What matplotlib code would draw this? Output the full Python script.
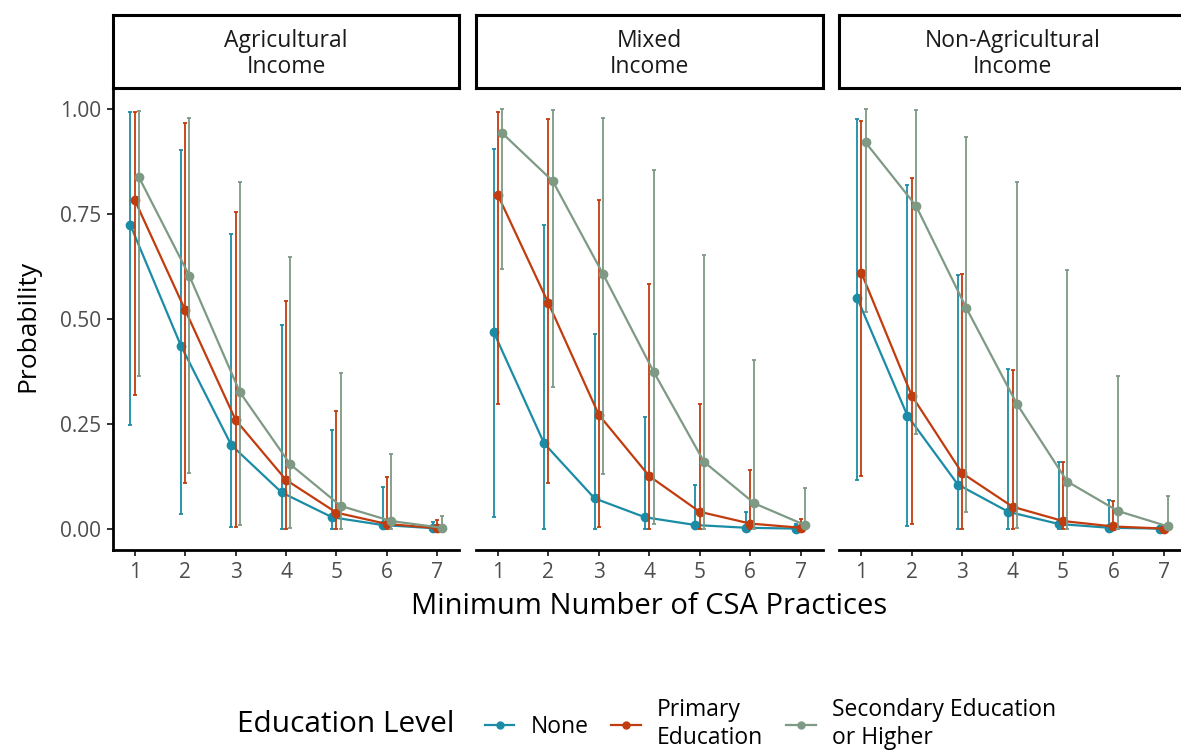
import matplotlib
matplotlib.use("Agg")
import matplotlib.pyplot as plt
from matplotlib.lines import Line2D
import numpy as np

# ---- data ----
practices = [1, 2, 3, 4, 5, 6, 7]
panels = ["Agricultural\nIncome", "Mixed\nIncome", "Non-Agricultural\nIncome"]
groups = ["None", "Primary\nEducation", "Secondary Education\nor Higher"]
colors = ["#1B8CA6", "#C13C0E", "#7E9A85"]

# rows: None, Primary, Secondary
agri_p = [[0.724, 0.437, 0.200, 0.087, 0.028, 0.0095, 0.002],
          [0.784, 0.522, 0.260, 0.117, 0.039, 0.012, 0.002],
          [0.838, 0.603, 0.326, 0.154, 0.055, 0.019, 0.003]]
agri_lo = [[0.248, 0.036, 0.004, 0.0, 0.0, 0.0, 0.0],
           [0.319, 0.110, 0.004, 0.0, 0.0, 0.0, 0.0],
           [0.365, 0.134, 0.010, 0.002, 0.0, 0.0, 0.0]]
agri_hi = [[0.994, 0.903, 0.702, 0.485, 0.236, 0.099, 0.017],
           [0.994, 0.967, 0.756, 0.544, 0.280, 0.123, 0.021],
           [0.997, 0.979, 0.826, 0.647, 0.371, 0.178, 0.032]]

mixed_p = [[0.469, 0.204, 0.073, 0.028, 0.0095, 0.003, 0.001],
           [0.795, 0.538, 0.272, 0.126, 0.041, 0.013, 0.003],
           [0.943, 0.829, 0.607, 0.375, 0.160, 0.061, 0.0095]]
mixed_lo = [[0.028, 0.0, 0.0, 0.0, 0.0, 0.0, 0.0],
            [0.298, 0.109, 0.004, 0.0, 0.0, 0.0, 0.0],
            [0.619, 0.338, 0.130, 0.011, 0.0, 0.0, 0.0]]
mixed_hi = [[0.906, 0.724, 0.465, 0.266, 0.105, 0.040, 0.013],
            [0.993, 0.976, 0.783, 0.583, 0.297, 0.141, 0.024],
            [1.000, 0.998, 0.980, 0.855, 0.654, 0.403, 0.097]]

nonag_p = [[0.551, 0.270, 0.106, 0.041, 0.012, 0.003, 0.001],
           [0.611, 0.318, 0.133, 0.053, 0.019, 0.006, 0.001],
           [0.921, 0.770, 0.526, 0.298, 0.113, 0.043, 0.006]]
nonag_lo = [[0.117, 0.006, 0.0, 0.0, 0.0, 0.0, 0.0],
            [0.127, 0.011, 0.0, 0.0, 0.0, 0.0, 0.0],
            [0.518, 0.226, 0.041, 0.002, 0.0, 0.0, 0.0]]
nonag_hi = [[0.977, 0.820, 0.604, 0.381, 0.159, 0.069, 0.008],
            [0.971, 0.837, 0.607, 0.379, 0.159, 0.067, 0.010],
            [1.000, 0.998, 0.933, 0.826, 0.617, 0.365, 0.079]]

panel_data = [(agri_p, agri_lo, agri_hi),
              (mixed_p, mixed_lo, mixed_hi),
              (nonag_p, nonag_lo, nonag_hi)]

plt.rcParams["font.family"] = ["Open Sans", "DejaVu Sans"]

W, H = 1181, 751
fig = plt.figure(figsize=(W / 100, H / 100), dpi=100)

lefts = [112.7, 476.0, 839.3]
pw = 346.6
ax_bottom, ax_top = 550.0, 88.3
strip_top = 14.5
dodge = [-0.085, 0.0, 0.085]
axis_col = "#4D4D4D"

for i, (left, title) in enumerate(zip(lefts, panels)):
    ax = fig.add_axes([left / W, 1 - ax_bottom / H, pw / W, (ax_bottom - ax_top) / H])
    p, lo, hi = panel_data[i]
    x = np.array(practices, dtype=float)
    for g in range(3):
        xs = x + dodge[g]
        yp = np.array(p[g])
        err = [yp - np.array(lo[g]), np.array(hi[g]) - yp]
        ax.errorbar(xs, yp, yerr=err, fmt="none", ecolor=colors[g],
                    elinewidth=1.3, capsize=1.3, capthick=1.3, zorder=2 + g)
        ax.plot(xs, yp, color=colors[g], lw=1.6, marker="o", ms=6,
                zorder=3 + g)
    ax.set_xlim(0.564, 7.436)
    ax.set_ylim(-0.05, 1.05)
    ax.set_xticks(practices)
    ax.set_yticks([0, 0.25, 0.5, 0.75, 1.0])
    for s in ["top", "right"]:
        ax.spines[s].set_visible(False)
    ax.spines["bottom"].set_linewidth(2.0)
    ax.spines["left"].set_linewidth(2.0)
    ax.tick_params(axis="both", length=4.5, width=1.4, color="#333333",
                   labelsize=15, labelcolor=axis_col, pad=4)
    if i == 0:
        ax.set_yticklabels(["0.00", "0.25", "0.50", "0.75", "1.00"])
    else:
        ax.spines["left"].set_visible(False)
        ax.tick_params(axis="y", left=False, labelleft=False)

    # facet strip
    sax = fig.add_axes([left / W, 1 - ax_top / H, pw / W, (ax_top - strip_top) / H])
    sax.set_xticks([])
    sax.set_yticks([])
    for s in sax.spines.values():
        s.set_linewidth(2.2)
        s.set_color("black")
    sax.text(0.5, 0.47, title, ha="center", va="center", fontsize=16.5,
             color="#1A1A1A", linespacing=1.12, transform=sax.transAxes)

fig.text(28 / W, 1 - 326 / H, "Probability", rotation=90, ha="center",
         va="center", fontsize=19, color="black")
fig.text(649 / W, 1 - 607 / H, "Minimum Number of CSA Practices", ha="center",
         va="center", fontsize=21, color="black")

# legend
fig.text(237 / W, 1 - 724 / H, "Education Level", ha="left", va="center",
         fontsize=21.5, color="black")
handles = [Line2D([0], [0], color=c, lw=1.6, marker="o", ms=5) for c in colors]
fig.legend(handles, groups, loc="center left",
           bbox_to_anchor=(464 / W, 1 - 724 / H), ncol=3, frameon=False,
           fontsize=16.5, handlelength=1.3, handletextpad=0.7,
           columnspacing=1.0, labelspacing=0.2)

fig.savefig("out.png", dpi=100, facecolor="white")
